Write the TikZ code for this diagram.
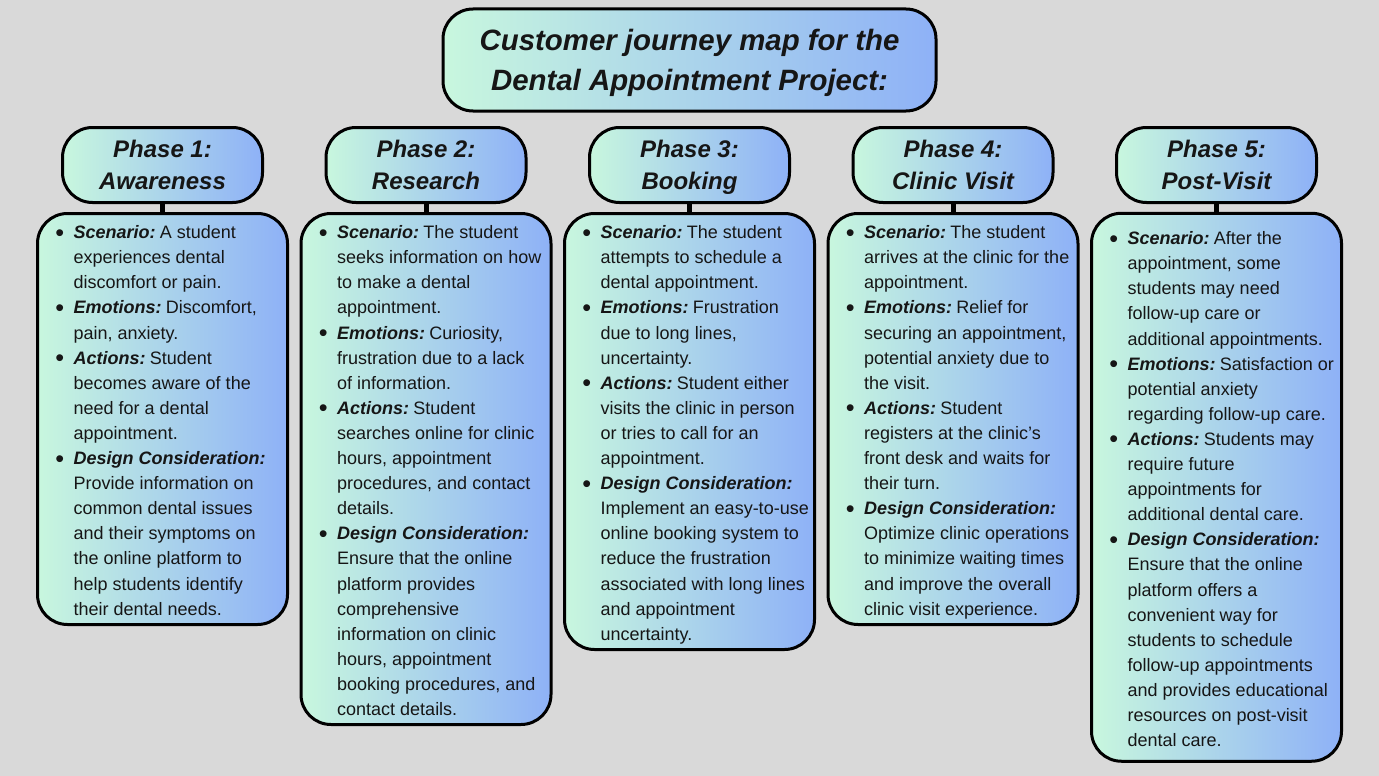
\documentclass[tikz,border=0pt]{standalone}
\usepackage{fontspec}
\usepackage{graphicx}
\setmainfont{Liberation Sans}
\definecolor{bgc}{RGB}{217,217,217}
\definecolor{gl}{RGB}{200,247,222}
\definecolor{gr}{RGB}{142,177,247}
\definecolor{ink}{RGB}{22,22,22}
\newcommand\bul{\leavevmode\llap{\raisebox{-2.5pt}{\scalebox{1.4}{\textbullet}}\hspace{9.6pt}}}
\newcommand\lab[1]{{\bfseries\itshape #1}\kern-2.5pt\relax}
\begin{document}
\begin{tikzpicture}[x=1pt,y=-1pt,
  panel/.style={draw=black, line width=3pt, rounded corners=30pt, left color=gl, right color=gr},
  titlebox/.style={panel, minimum width=493pt, minimum height=102pt, inner sep=0pt, align=center,
    font=\fontsize{29.4}{39.5}\selectfont\bfseries\itshape, text depth=0pt, text=ink},
  hdr/.style={panel, minimum width=200pt, minimum height=75pt, inner sep=0pt, align=center,
    font=\fontsize{24}{32.3}\selectfont\bfseries\itshape, text depth=0pt, text=ink},
  cbox/.style={panel, minimum width=250pt, inner sep=0pt},
  txt/.style={anchor=north west, inner sep=0pt, align=left, font=\fontsize{18}{25.1}\selectfont, text=ink},
  conn/.style={draw=black, line width=5pt}
]
\fill[bgc] (0,0) rectangle (1379,776);
\useasboundingbox (0,0) rectangle (1379,776);

\node[titlebox] (title) at (689.5,60) {Customer journey map for the\\Dental Appointment Project:};

% headers
\node[hdr] (h1) at (162.5,165) {Phase 1:\\Awareness};
\node[hdr] (h2) at (426,165) {Phase 2:\\Research};
\node[hdr] (h3) at (689.5,165) {Phase 3:\\Booking};
\node[hdr] (h4) at (953,165) {Phase 4:\\Clinic Visit};
\node[hdr] (h5) at (1216.5,165) {Phase 5:\\Post-Visit};

% content boxes
\node[cbox, minimum height=411pt] (b1) at (162.5,419) {};
\node[cbox, minimum height=511pt] (b2) at (426,469) {};
\node[cbox, minimum height=436pt] (b3) at (689.5,431.5) {};
\node[cbox, minimum height=411pt] (b4) at (953,419) {};
\node[cbox, minimum height=548pt] (b5) at (1216.5,487.25) {};

% connectors
\draw[conn] (h1.south) -- (b1.north);
\draw[conn] (h2.south) -- (b2.north);
\draw[conn] (h3.south) -- (b3.north);
\draw[conn] (h4.south) -- (b4.north);
\draw[conn] (h5.south) -- (b5.north);

% texts
\node[txt] (t1) at (73.5,220.9) {\bul\strut\lab{Scenario:} A student\\
experiences dental\\
discomfort or pain.\\
\bul\lab{Emotions:} Discomfort,\\
pain, anxiety.\\
\bul\lab{Actions:} Student\\
becomes aware of the\\
need for a dental\\
appointment.\\
\bul\lab{Design Consideration:}\\
Provide information on\\
common dental issues\\
and their symptoms on\\
the online platform to\\
help students identify\\
their dental needs.};

\node[txt] (t2) at (337,220.9) {\bul\strut\lab{Scenario:} The student\\
seeks information on how\\
to make a dental\\
appointment.\\
\bul\lab{Emotions:} Curiosity,\\
frustration due to a lack\\
of information.\\
\bul\lab{Actions:} Student\\
searches online for clinic\\
hours, appointment\\
procedures, and contact\\
details.\\
\bul\lab{Design Consideration:}\\
Ensure that the online\\
platform provides\\
comprehensive\\
information on clinic\\
hours, appointment\\
booking procedures, and\\
contact details.};

\node[txt] (t3) at (600.5,220.9) {\bul\strut\lab{Scenario:} The student\\
attempts to schedule a\\
dental appointment.\\
\bul\lab{Emotions:} Frustration\\
due to long lines,\\
uncertainty.\\
\bul\lab{Actions:} Student either\\
visits the clinic in person\\
or tries to call for an\\
appointment.\\
\bul\lab{Design Consideration:}\\
Implement an easy-to-use\\
online booking system to\\
reduce the frustration\\
associated with long lines\\
and appointment\\
uncertainty.};

\node[txt] (t4) at (864,220.9) {\bul\strut\lab{Scenario:} The student\\
arrives at the clinic for the\\
appointment.\\
\bul\lab{Emotions:} Relief for\\
securing an appointment,\\
potential anxiety due to\\
the visit.\\
\bul\lab{Actions:} Student\\
registers at the clinic's\\
front desk and waits for\\
their turn.\\
\bul\lab{Design Consideration:}\\
Optimize clinic operations\\
to minimize waiting times\\
and improve the overall\\
clinic visit experience.};

\node[txt] (t5) at (1127.5,226.9) {\bul\strut\lab{Scenario:} After the\\
appointment, some\\
students may need\\
follow-up care or\\
additional appointments.\\
\bul\lab{Emotions:} Satisfaction or\\
potential anxiety\\
regarding follow-up care.\\
\bul\lab{Actions:} Students may\\
require future\\
appointments for\\
additional dental care.\\
\bul\lab{Design Consideration:}\\
Ensure that the online\\
platform offers a\\
convenient way for\\
students to schedule\\
follow-up appointments\\
and provides educational\\
resources on post-visit\\
dental care.};
\end{tikzpicture}
\end{document}
